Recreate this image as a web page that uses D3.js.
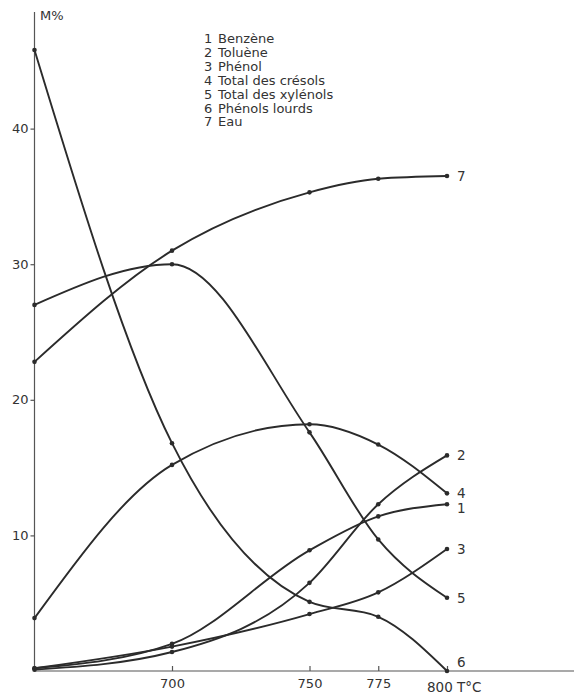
<!DOCTYPE html>
<html>
<head>
<meta charset="utf-8">
<script src="https://cdn.jsdelivr.net/npm/d3@7/dist/d3.min.js"></script>
<style>
  html, body { margin: 0; padding: 0; background: #fff; }
  svg { display: block; }
  text { font-family: "DejaVu Sans", sans-serif; fill: #333; }
</style>
</head>
<body>
<svg id="chart" width="574" height="695"></svg>
<script>
// Temperatures (°C) at which each product yield was measured
const temperatures = [650, 700, 750, 775, 800];

// Yields, mass %
const benzene    = [0.2, 2.0, 8.9, 11.4, 12.3];
const toluene    = [0.1, 1.4, 6.5, 12.3, 15.9];
const phenol     = [0.2, 1.8, 4.2, 5.8, 9.0];
const cresols    = [3.9, 15.2, 18.2, 16.7, 13.1];
const xylenols   = [27.0, 30.0, 17.6, 9.7, 5.4];
const heavyPhen  = [45.8, 16.8, 5.1, 4.0, 0.0];
const water      = [22.8, 31.0, 35.3, 36.3, 36.5];

const seriesNames = ["Benzène", "Toluène", "Phénol", "Total des crésols",
                     "Total des xylénols", "Phénols lourds", "Eau"];
const seriesValues = [benzene, toluene, phenol, cresols, xylenols, heavyPhen, water];
// vertical nudge of each end-of-curve number so neighbours stay apart
const endLabelShift = [9, 5, 5, 5, 5, -4, 5];

const xTicks = [700, 750, 775, 800];
const yTicks = [10, 20, 30, 40];

const svg = d3.select("#chart");
const ink = "#2b2b2b";

const x = d3.scaleLinear().domain([650, 800]).range([34.5, 447]);
const y = d3.scaleLinear().domain([0, 48.6]).range([671, 12]);

// Axes
const xAxis = svg.append("g").attr("transform", `translate(0,${y(0)})`)
  .call(d3.axisBottom(x).tickValues(xTicks).tickSizeInner(-5).tickSizeOuter(0)
        .tickFormat(d => d === 800 ? "" : d));
xAxis.select(".domain").attr("d", `M${x(650)},0H574`);
xAxis.selectAll("line, path").attr("stroke", "#555").attr("stroke-width", 1.2);
xAxis.selectAll("text").attr("font-size", 13).attr("dy", "1.1em")
  .attr("font-family", "DejaVu Sans").attr("fill", "#333");

svg.append("text").attr("x", x(800) - 20).attr("y", y(0) + 21)
  .attr("font-size", 13.5).text("800 T°C");

const yAxis = svg.append("g").attr("transform", `translate(${x(650)},0)`)
  .call(d3.axisLeft(y).tickValues(yTicks).tickSize(4).tickPadding(2));
yAxis.select(".domain").attr("d", `M0,${y(0)}V${y.range()[1]}`);
yAxis.selectAll("line, path").attr("stroke", "#555").attr("stroke-width", 1.2);
yAxis.selectAll("text").attr("font-size", 13)
  .attr("font-family", "DejaVu Sans").attr("fill", "#333");

svg.append("text").attr("x", 40).attr("y", 20).attr("font-size", 13).text("M%");

// Curves
const line = d3.line()
  .x((d, i) => x(temperatures[i]))
  .y(d => y(d))
  .curve(d3.curveMonotoneX);

seriesValues.forEach((vals, k) => {
  svg.append("path").attr("d", line(vals))
    .attr("fill", "none").attr("stroke", ink).attr("stroke-width", 1.9);
  svg.selectAll(null).data(vals).enter().append("circle")
    .attr("cx", (d, i) => x(temperatures[i]))
    .attr("cy", d => y(d))
    .attr("r", 2.3).attr("fill", ink);
  // series number at the end of each curve
  const last = vals[vals.length - 1];
  svg.append("text")
    .attr("x", x(800) + 10)
    .attr("y", y(last) + endLabelShift[k])
    .attr("font-size", 13.5).text(k + 1);
});

// Key
const key = svg.append("g");
seriesNames.forEach((name, i) => {
  const yy = 43 + i * 13.9;
  key.append("text").attr("x", 204).attr("y", yy).attr("font-size", 13).text(i + 1);
  key.append("text").attr("x", 218).attr("y", yy).attr("font-size", 13).text(name);
});
</script>
</body>
</html>
